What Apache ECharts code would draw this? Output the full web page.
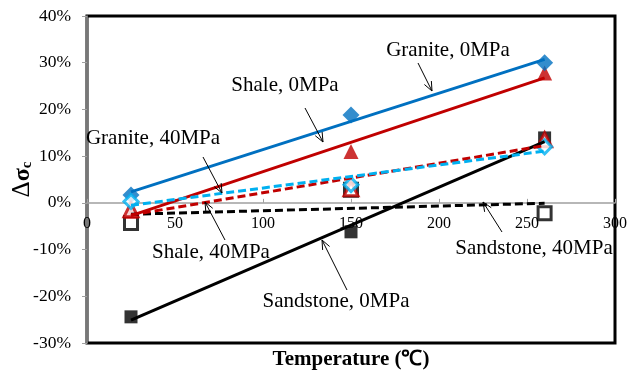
<!DOCTYPE html>
<html>
<head>
<meta charset="utf-8">
<script src="https://cdn.jsdelivr.net/npm/echarts@6/dist/echarts.min.js"></script>
<style>
  html, body { margin: 0; padding: 0; background: #fff; }
  #chart { width: 628px; height: 374px; }
</style>
</head>
<body>
<div id="chart"></div>
<script>
// Temperature (°C) at which each rock was tested
const temperatures = [25, 150, 260];

// Change of strength, in percent
const graniteZero   = [1.7, 18.8, 30.0];
const shaleZero     = [-1.8, 11.0, 27.8];
const sandstoneZero = [-24.4, -6.2, 13.9];
const graniteForty  = [0.3, 3.9, 12.0];
const shaleForty    = [-1.5, 3.0, 13.5];
const sandstoneForty = [-4.3, 2.8, -2.2];

const xTicks = [0, 50, 100, 150, 200, 250, 300];
const yTicks = [-30, -20, -10, 0, 10, 20, 30, 40];

const FONT = '"Liberation Serif", "Times New Roman", serif';

// Plot box inside the 628x374 canvas
const GRID = { left: 87, right: 13, top: 16, bottom: 31 };
const plotHeight = 374 - GRID.top - GRID.bottom;
const yMin = yTicks[0], yMax = yTicks[yTicks.length - 1];
// The temperature axis sits on the 0% line
const xAxisLift = plotHeight * (0 - yMin) / (yMax - yMin);

// Least-squares straight line through the points, drawn over the sampled range
function trend(xs, ys) {
  const n = xs.length;
  const mx = xs.reduce((a, b) => a + b, 0) / n;
  const my = ys.reduce((a, b) => a + b, 0) / n;
  let sxy = 0, sxx = 0;
  for (let i = 0; i < n; i++) {
    sxy += (xs[i] - mx) * (ys[i] - my);
    sxx += (xs[i] - mx) * (xs[i] - mx);
  }
  const k = sxy / sxx;
  const x0 = Math.min(...xs), x1 = Math.max(...xs);
  return [[x0, my + k * (x0 - mx)], [x1, my + k * (x1 - mx)]];
}

function pairs(ys) { return temperatures.map((t, i) => [t, ys[i]]); }

const groups = [
  { name: 'Sandstone, 40MPa', ys: sandstoneForty, color: '#000000', symbol: 'rect', size: 13, hollow: true, dashed: true },
  { name: 'Sandstone, 0MPa', ys: sandstoneZero, color: '#000000', symbol: 'rect', size: 13, hollow: false, dashed: false },
  { name: 'Shale, 0MPa', ys: shaleZero, color: '#C00000', symbol: 'triangle', size: 15, hollow: false, dashed: false },
  { name: 'Granite, 0MPa', ys: graniteZero, color: '#0070C0', symbol: 'diamond', size: 17, hollow: false, dashed: false },
  { name: 'Shale, 40MPa', ys: shaleForty, color: '#C00000', symbol: 'triangle', size: 14, hollow: true, dashed: true },
  { name: 'Granite, 40MPa', ys: graniteForty, color: '#00B0F0', symbol: 'diamond', size: 14, hollow: true, dashed: true }
];

const series = [];
groups.forEach(g => {
  series.push({
    name: g.name,
    type: 'scatter',
    data: pairs(g.ys),
    symbol: g.symbol,
    symbolSize: g.size,
    itemStyle: g.hollow
      ? { color: '#ffffff', borderColor: g.color, borderWidth: 3 }
      : { color: g.color },
    z: 3
  });
});
groups.forEach(g => {
  series.push({
    name: g.name + ' trend',
    type: 'line',
    data: trend(temperatures, g.ys),
    showSymbol: false,
    symbol: 'none',
    lineStyle: { color: g.color, width: 3, type: g.dashed ? [8, 4] : 'solid' },
    silent: true,
    z: 4
  });
});

// Callout text with a thin arrow pointing at its line
function callout(text, cx, cy, fromX, fromY, toX, toY) {
  const ang = Math.atan2(toY - fromY, toX - fromX);
  const len = 10, spread = 0.4;
  const p1 = [toX - len * Math.cos(ang - spread), toY - len * Math.sin(ang - spread)];
  const p2 = [toX - len * Math.cos(ang + spread), toY - len * Math.sin(ang + spread)];
  return [
    {
      type: 'text', x: cx, y: cy, z: 10,
      style: { text: text, font: '21px ' + FONT, fill: '#000', align: 'center', verticalAlign: 'middle' }
    },
    {
      type: 'line', z: 10,
      shape: { x1: fromX, y1: fromY, x2: toX, y2: toY },
      style: { stroke: '#000', lineWidth: 1 }
    },
    {
      type: 'polyline', z: 10,
      shape: { points: [p1, [toX, toY], p2] },
      style: { stroke: '#000', lineWidth: 1, fill: null }
    }
  ];
}

const graphics = [].concat(
  callout('Granite, 0MPa', 448, 50, 418, 63, 432, 91),
  callout('Shale, 0MPa', 285, 85, 305, 108, 323, 142),
  callout('Granite, 40MPa', 153, 138, 203, 157, 222, 193),
  callout('Shale, 40MPa', 211, 252, 225, 240, 205, 202),
  callout('Sandstone, 0MPa', 336, 301, 347, 290, 322, 240),
  callout('Sandstone, 40MPa', 534, 248, 502, 232, 483, 202)
);

const chart = echarts.init(document.getElementById('chart'), null, { renderer: 'canvas' });
chart.setOption({
  animation: false,
  backgroundColor: '#ffffff',
  grid: {
    left: GRID.left, right: GRID.right, top: GRID.top, bottom: GRID.bottom,
    outerBoundsMode: 'none',
    containLabel: false,
    show: true, borderColor: '#000', borderWidth: 3, backgroundColor: 'transparent'
  },
  xAxis: {
    type: 'value',
    min: xTicks[0], max: xTicks[xTicks.length - 1], interval: xTicks[1] - xTicks[0],
    offset: -xAxisLift,
    name: 'Temperature (℃)',
    nameLocation: 'middle',
    nameGap: 146,
    nameMoveOverlap: false,
    nameTextStyle: { fontFamily: FONT, fontSize: 21, fontWeight: 'bold', color: '#000' },
    axisLine: { onZero: false, lineStyle: { color: '#a0a0a0', width: 1.5 } },
    axisTick: { show: true, inside: true, length: 4, lineStyle: { color: '#a0a0a0' } },
    axisLabel: { fontFamily: FONT, fontSize: 16, color: '#000', margin: 13 },
    splitLine: { show: false }
  },
  yAxis: {
    type: 'value',
    min: yMin, max: yMax, interval: yTicks[1] - yTicks[0],
    name: '{d|Δ}{s|σ}{c|c}',
    nameLocation: 'middle',
    nameRotate: 90,
    nameGap: 52,
    nameMoveOverlap: false,
    nameTextStyle: {
      rich: {
        d: { fontFamily: FONT, fontSize: 25, color: '#000' },
        s: { fontFamily: FONT, fontSize: 24, fontWeight: 'bold', color: '#000' },
        c: { fontFamily: FONT, fontSize: 15, fontWeight: 'bold', color: '#000', verticalAlign: 'bottom', padding: [8, 0, 0, 0] }
      }
    },
    axisLine: { show: true, lineStyle: { color: '#a0a0a0', width: 1.5 } },
    axisTick: { show: true, length: 5, lineStyle: { color: '#a0a0a0' } },
    axisLabel: { fontFamily: FONT, fontSize: 17.5, color: '#000', margin: 16, formatter: '{value}%' },
    splitLine: { show: false }
  },
  series: series,
  graphic: graphics
});
</script>
</body>
</html>
